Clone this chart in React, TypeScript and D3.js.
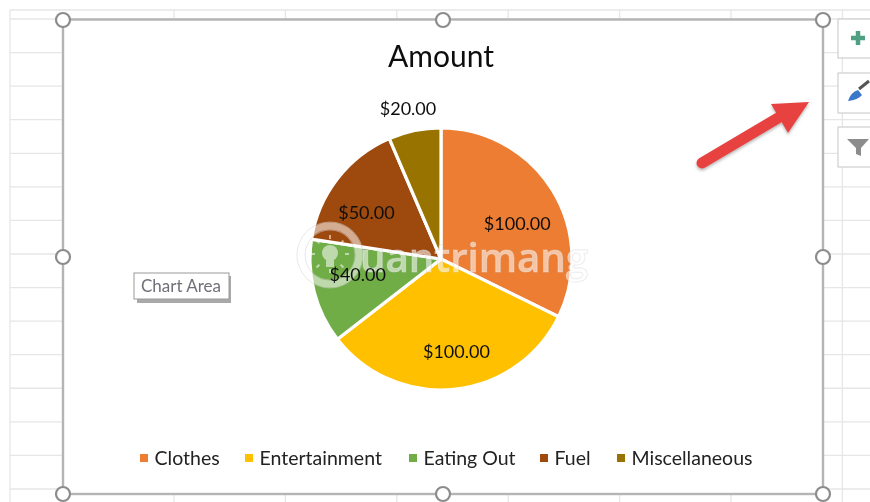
import React from "react";
import * as d3 from "d3";

const categories = ["Clothes", "Entertainment", "Eating Out", "Fuel", "Miscellaneous"];
const amounts = [100, 100, 40, 50, 20];
const sliceColors = ["#ED7D31", "#FFC000", "#70AD47", "#9E480E", "#997300"];

const width = 870;
const height = 502;
const cx = 441;
const cy = 259;
const radius = 131;

// excel's "best fit" labels don't sit on the slice's middle, so nudge each one
const labelRadius = [84, 93, 84, 88, 154];
const labelNudge = [[5, 9], [6, 0], [-2, -5], [-5, 8], [-2, 1]];
const legendX = [140, 245, 409, 540, 617];

const color = d3.scaleOrdinal<string, string>().domain(categories).range(sliceColors);
const fmt = d3.format("$.2f");

const pie = d3.pie<number>().sort(null).value((d) => d);
const arc = d3.arc<d3.PieArcDatum<number>>().innerRadius(0).outerRadius(radius);
const slices = pie(amounts);

const rowY = d3.range(0, 15).map((i) => 19 + i * 33.57);
const colX = d3.range(0, 7).map((i) => 174 + i * 111.4);
const handles = [
  [63, 20], [443, 20], [823, 20],
  [63, 257], [823, 257],
  [63, 494], [443, 494], [823, 494],
];
const bulbRays = d3.range(0, 8).map((i) => (i * 360) / 8);
const font = "Lato, 'Open Sans', sans-serif";

export default function App() {
  return (
    <svg
      width={width}
      height={height}
      viewBox={`0 0 ${width} ${height}`}
      style={{ position: "fixed", left: 0, top: 0, background: "#fff" }}
    >
      <defs>
        <filter id="soft" x="-5%" y="-5%" width="110%" height="110%">
          <feGaussianBlur stdDeviation="0.55" />
        </filter>
        <filter id="arrowShadow" x="-20%" y="-20%" width="140%" height="140%">
          <feDropShadow dx="0" dy="2" stdDeviation="1.5" floodColor="#888" floodOpacity="0.6" />
        </filter>
      </defs>
      <g filter="url(#soft)">
        {/* worksheet grid */}
        <g stroke="#e6e6e6" strokeWidth={1.3}>
          <line x1={10} x2={870} y1={10} y2={10} />
          <line x1={10} x2={10} y1={10} y2={502} />
          {rowY.map((y) => <line key={y} x1={10} x2={870} y1={y} y2={y} />)}
          {colX.map((x) => <line key={x} x1={x} x2={x} y1={10} y2={502} />)}
        </g>

        {/* chart area */}
        <rect x={63} y={19.5} width={760} height={474.5} fill="#fff" stroke="#b4b4b4" strokeWidth={2.4} />

        <text x={441} y={67} textAnchor="middle" fontFamily={font} fontSize={30} fill="#111">Amount</text>

        <g transform={`translate(${cx},${cy})`}>
          {slices.map((s, i) => (
            <path key={categories[i]} d={arc(s) ?? ""} fill={color(categories[i])} stroke="#fff" strokeWidth={3.2} strokeLinejoin="round" />
          ))}
        </g>

        {/* watermark sits between slices and labels, faint grey halo shows it off the pie */}
        <g fill="none" stroke="#cfcfcf" strokeOpacity={0.55} strokeWidth={1}>
          <circle cx={330} cy={255} r={33} />
          <circle cx={330} cy={255} r={25} />
          <text x={360} y={272} fontFamily="'Open Sans', sans-serif" fontSize={40} fontWeight={600} textLength={228} lengthAdjust="spacingAndGlyphs">
            uantrimang
          </text>
        </g>
        <g opacity={0.55}>
          <circle cx={330} cy={255} r={29} fill="none" stroke="#fff" strokeWidth={7} />
          <circle cx={330} cy={253} r={8} fill="#fff" />
          <rect x={326} y={260} width={8} height={7} fill="#fff" />
          {bulbRays.map((a) => (
            <line key={a} x1={330} x2={330} y1={239} y2={235} stroke="#fff" strokeWidth={2} transform={`rotate(${a} 330 254)`} />
          ))}
          <text x={360} y={272} fontFamily="'Open Sans', sans-serif" fontSize={40} fontWeight={600} fill="#fff" textLength={228} lengthAdjust="spacingAndGlyphs">
            uantrimang
          </text>
        </g>

        <g transform={`translate(${cx},${cy})`} fontFamily={font} fontSize={18} fill="#111" textAnchor="middle">
          {slices.map((s, i) => {
            const r = labelRadius[i];
            const [x, y] = d3.arc<d3.PieArcDatum<number>>().innerRadius(r).outerRadius(r).centroid(s);
            return (
              <text key={categories[i]} x={x + labelNudge[i][0]} y={y + labelNudge[i][1]} dy="0.35em">
                {fmt(amounts[i])}
              </text>
            );
          })}
        </g>

        {/* legend */}
        <g fontFamily={font} fontSize={19.5} fill="#222">
          {categories.map((c, i) => (
            <g key={c}>
              <rect x={legendX[i]} y={454} width={8} height={8} fill={color(c)} />
              <text x={legendX[i] + 14.5} y={465}>{c}</text>
            </g>
          ))}
        </g>

        {/* selection handles */}
        {handles.map(([x, y]) => (
          <circle key={`${x}-${y}`} cx={x} cy={y} r={7} fill="#fff" stroke="#8c8c8c" strokeWidth={2.2} />
        ))}

        {/* chart element buttons */}
        <g fill="#fff" stroke="#cfcfcf" strokeWidth={1.2}>
          <rect x={838} y={19} width={40} height={39} />
          <rect x={838} y={73} width={40} height={40} />
          <rect x={838} y={127} width={40} height={40} />
        </g>
        <path d="M858 31 V45 M851 38 H865" stroke="#4f9f83" strokeWidth={4.5} fill="none" />
        <path d="M848 101 Q851 92 858 90 L862 95 Q858 100 848 101 Z" fill="#3a78c9" />
        <path d="M859 89 L869 81" stroke="#555" strokeWidth={3} fill="none" />
        <path d="M847 139 H869 L861 148 V156 L856 154 V148 Z" fill="#8c8c8c" />

        {/* red arrow */}
        <g filter="url(#arrowShadow)">
          <path d="M702 163 L778 118" stroke="#e8423f" strokeWidth={11} strokeLinecap="round" fill="none" />
          <path d="M771 104 L809 102 L788 133 Z" fill="#e8423f" />
        </g>

        {/* tooltip */}
        <rect x={137} y={276} width={94} height={27} fill="#a9a9a9" />
        <rect x={134} y={273} width={95} height={26} fill="#fff" stroke="#9a9a9a" strokeWidth={1} />
        <text x={181} y={292} textAnchor="middle" fontFamily={font} fontSize={17} fill="#6f6f78">Chart Area</text>
      </g>
    </svg>
  );
}
